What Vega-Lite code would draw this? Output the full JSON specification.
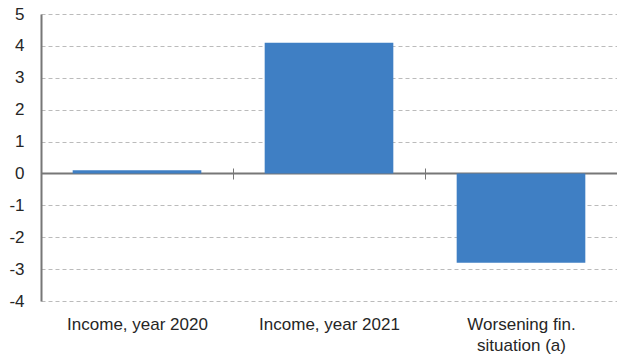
{
  "$schema": "https://vega.github.io/schema/vega-lite/v6.json",
  "width": 576,
  "height": 287,
  "autosize": {"type": "none"},
  "padding": {"left": 41, "top": 14, "right": 0, "bottom": 57},
  "background": "white",
  "config": {
    "view": {"stroke": null},
    "font": "Liberation Sans"
  },
  "data": {
    "values": [
      {"category": "Income, year 2020", "value": 0.1},
      {"category": "Income, year 2021", "value": 4.1},
      {"category": "Worsening fin. situation (a)", "value": -2.8}
    ]
  },
  "encoding": {
    "y": {
      "field": "value",
      "type": "quantitative",
      "scale": {"domain": [-4, 5], "nice": false},
      "axis": {
        "title": null,
        "values": [-4, -3, -2, -1, 0, 1, 2, 3, 4, 5],
        "labelExpr": "'' + datum.value",
        "grid": true,
        "gridDash": [4, 3],
        "gridColor": "#BBBBBB",
        "gridWidth": 1,
        "domain": true,
        "domainColor": "#777777",
        "domainWidth": 2,
        "ticks": false,
        "labelPadding": 17,
        "labelFontSize": 17,
        "labelColor": "#262626"
      }
    }
  },
  "resolve": {"axis": {"x": "independent"}},
  "layer": [
    {
      "mark": {"type": "bar", "color": "#3F7FC4", "width": {"band": 0.67}},
      "encoding": {
        "x": {
          "field": "category",
          "type": "nominal",
          "sort": null,
          "scale": {"paddingInner": 0, "paddingOuter": 0},
          "axis": {
            "title": null,
            "orient": "bottom",
            "offset": -128,
            "labelAngle": 0,
            "domain": true,
            "domainColor": "#777777",
            "domainWidth": 2,
            "ticks": true,
            "tickBand": "extent",
            "tickSize": 6,
            "tickColor": "#777777",
            "tickWidth": 1,
            "labelPadding": 137,
            "labelFontSize": 17,
            "labelColor": "#262626",
            "labelLineHeight": 21,
            "labelExpr": "datum.value == 'Worsening fin. situation (a)' ? ['Worsening fin.', 'situation (a)'] : datum.label"
          }
        }
      }
    },
    {
      "mark": {"type": "bar", "opacity": 0},
      "encoding": {
        "x": {
          "field": "category",
          "type": "nominal",
          "sort": null,
          "axis": {
            "title": null,
            "orient": "top",
            "offset": -160,
            "labels": false,
            "domain": false,
            "ticks": true,
            "tickBand": "extent",
            "tickSize": 6,
            "tickColor": "#777777",
            "tickWidth": 1,
            "grid": false
          }
        }
      }
    }
  ]
}
